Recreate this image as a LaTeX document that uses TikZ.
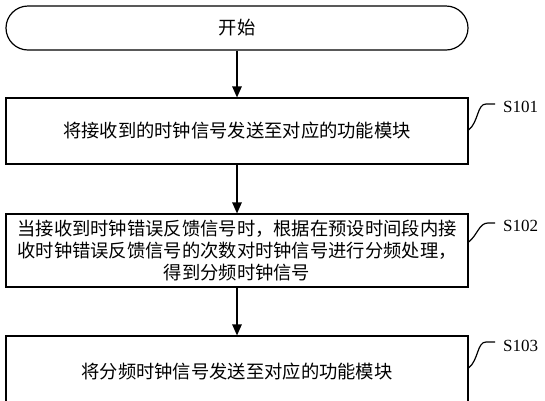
\documentclass[tikz,border=0pt]{standalone}
\usepackage{fontspec}
\setmainfont{Liberation Serif}
\newfontfamily\cjk{Noto Sans CJK SC}
\usetikzlibrary{arrows.meta}
\begin{document}
\begin{tikzpicture}[x=1pt,y=-1pt,
  boxstyle/.style={draw, line width=1.2pt, minimum width=462pt, inner sep=0pt,
     font=\cjk\fontsize{18.3}{22}\selectfont, align=center},
  termstyle/.style={boxstyle, rounded corners=22pt, minimum height=44pt},
  arrowstyle/.style={-{Triangle[length=11pt,width=9.5pt]}, line width=1.2pt},
  labstyle/.style={anchor=west, inner sep=0pt, font=\fontsize{17}{20}\selectfont},
  hookstyle/.style={line width=1.2pt}]
\useasboundingbox (0,0) rectangle (545,400);
\clip (0,0) rectangle (545,400);
\fill[white] (0,0) rectangle (545,400);

\node[termstyle] (start) at (237,28) {开始};
\node[boxstyle, minimum height=66pt] (b1) at (237,131) {将接收到的时钟信号发送至对应的功能模块};
\node[boxstyle, minimum height=73pt] (b2) at (237,250.5) {当接收到时钟错误反馈信号时，根据在预设时间段内接\\收时钟错误反馈信号的次数对时钟信号进行分频处理，\\得到分频时钟信号};
\node[boxstyle, minimum height=72pt] (b3) at (237,372) {将分频时钟信号发送至对应的功能模块};

\draw[arrowstyle] (start.south) -- (b1.north);
\draw[arrowstyle] (b1.south) -- (b2.north);
\draw[arrowstyle] (b2.south) -- (b3.north);

\node[labstyle] (l1) at (503,107) {S101};
\node[labstyle] (l2) at (503,226) {S102};
\node[labstyle] (l3) at (503,346) {S103};

\draw[hookstyle] ([yshift=1pt]b1.east) .. controls +(10,-8) and +(-9,0) .. ([xshift=-17pt,yshift=3pt]l1.west) -- ([xshift=-8pt,yshift=3pt]l1.west);
\draw[hookstyle] ([yshift=8.5pt]b2.east) .. controls +(9,-7) and +(-9,0) .. ([xshift=-15pt,yshift=3pt]l2.west) -- ([xshift=-8pt,yshift=3pt]l2.west);
\draw[hookstyle] ([yshift=4pt]b3.east) .. controls +(10,-8) and +(-9,0) .. ([xshift=-17pt,yshift=4pt]l3.west) -- ([xshift=-8pt,yshift=4pt]l3.west);
\end{tikzpicture}
\end{document}
